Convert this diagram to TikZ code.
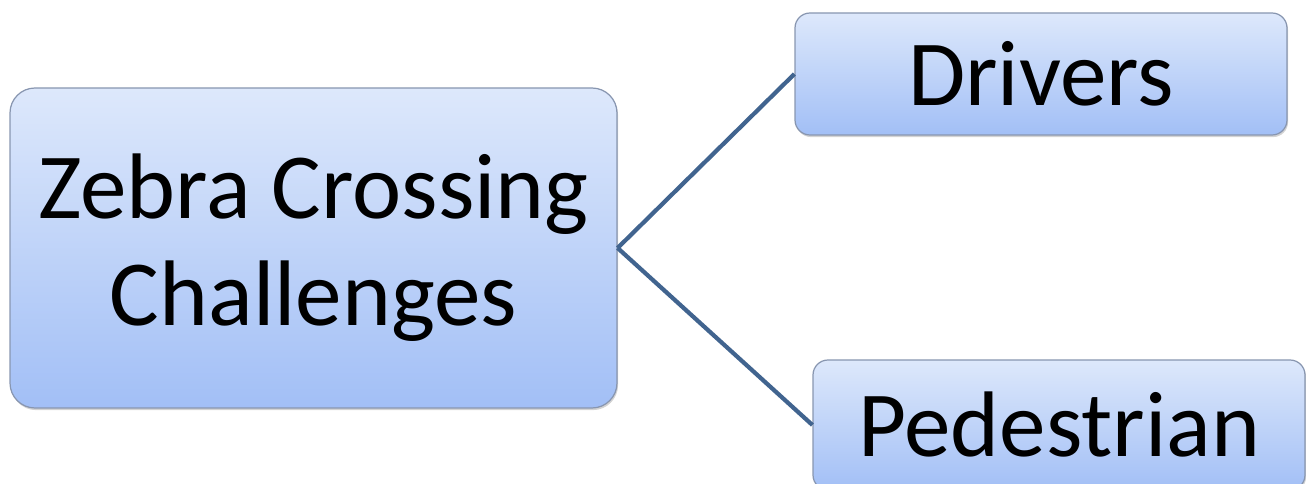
\documentclass[tikz,border=0pt]{standalone}
\usepackage{fontspec}
\setmainfont{Carlito}
\usetikzlibrary{shadows}
\definecolor{boxtop}{HTML}{DDE8FB}
\definecolor{boxbottom}{HTML}{A2BFF6}
\definecolor{boxline}{HTML}{8896B0}
\definecolor{linkblue}{HTML}{41648F}

\begin{document}
\begin{tikzpicture}[
	topic/.style={
		shape=rectangle,
		rounded corners=0.3cm,
		top color=boxtop,
		bottom color=boxbottom,
		draw=boxline,
		line width=0.7pt,
		drop shadow={shadow xshift=0.6pt, shadow yshift=-1.2pt, opacity=0.35},
		font=\fontsize{53}{61}\selectfont,
		align=center,
		inner sep=0pt},
	link/.style={draw=linkblue, line width=2.4pt}
	]
	\useasboundingbox (0,0) rectangle (26.12,-9.68);

	\node[topic, rounded corners=0.5cm, minimum width=12.14cm, minimum height=6.4cm] (zebra) at (6.27,-4.96) {Zebra Crossing\\Challenges};
	
	\node[topic, minimum width=9.84cm, minimum height=2.44cm] (drivers) at (20.82,-1.48) {Drivers};
	\node[topic, minimum width=9.84cm, minimum height=2.6cm] (pedestrian) at (21.18,-8.5) {Pedestrian};
	
	\draw[link] (zebra.east) -- (drivers.west);
	\draw[link] (zebra.east) -- (pedestrian.west);
	
\end{tikzpicture}
\end{document}
